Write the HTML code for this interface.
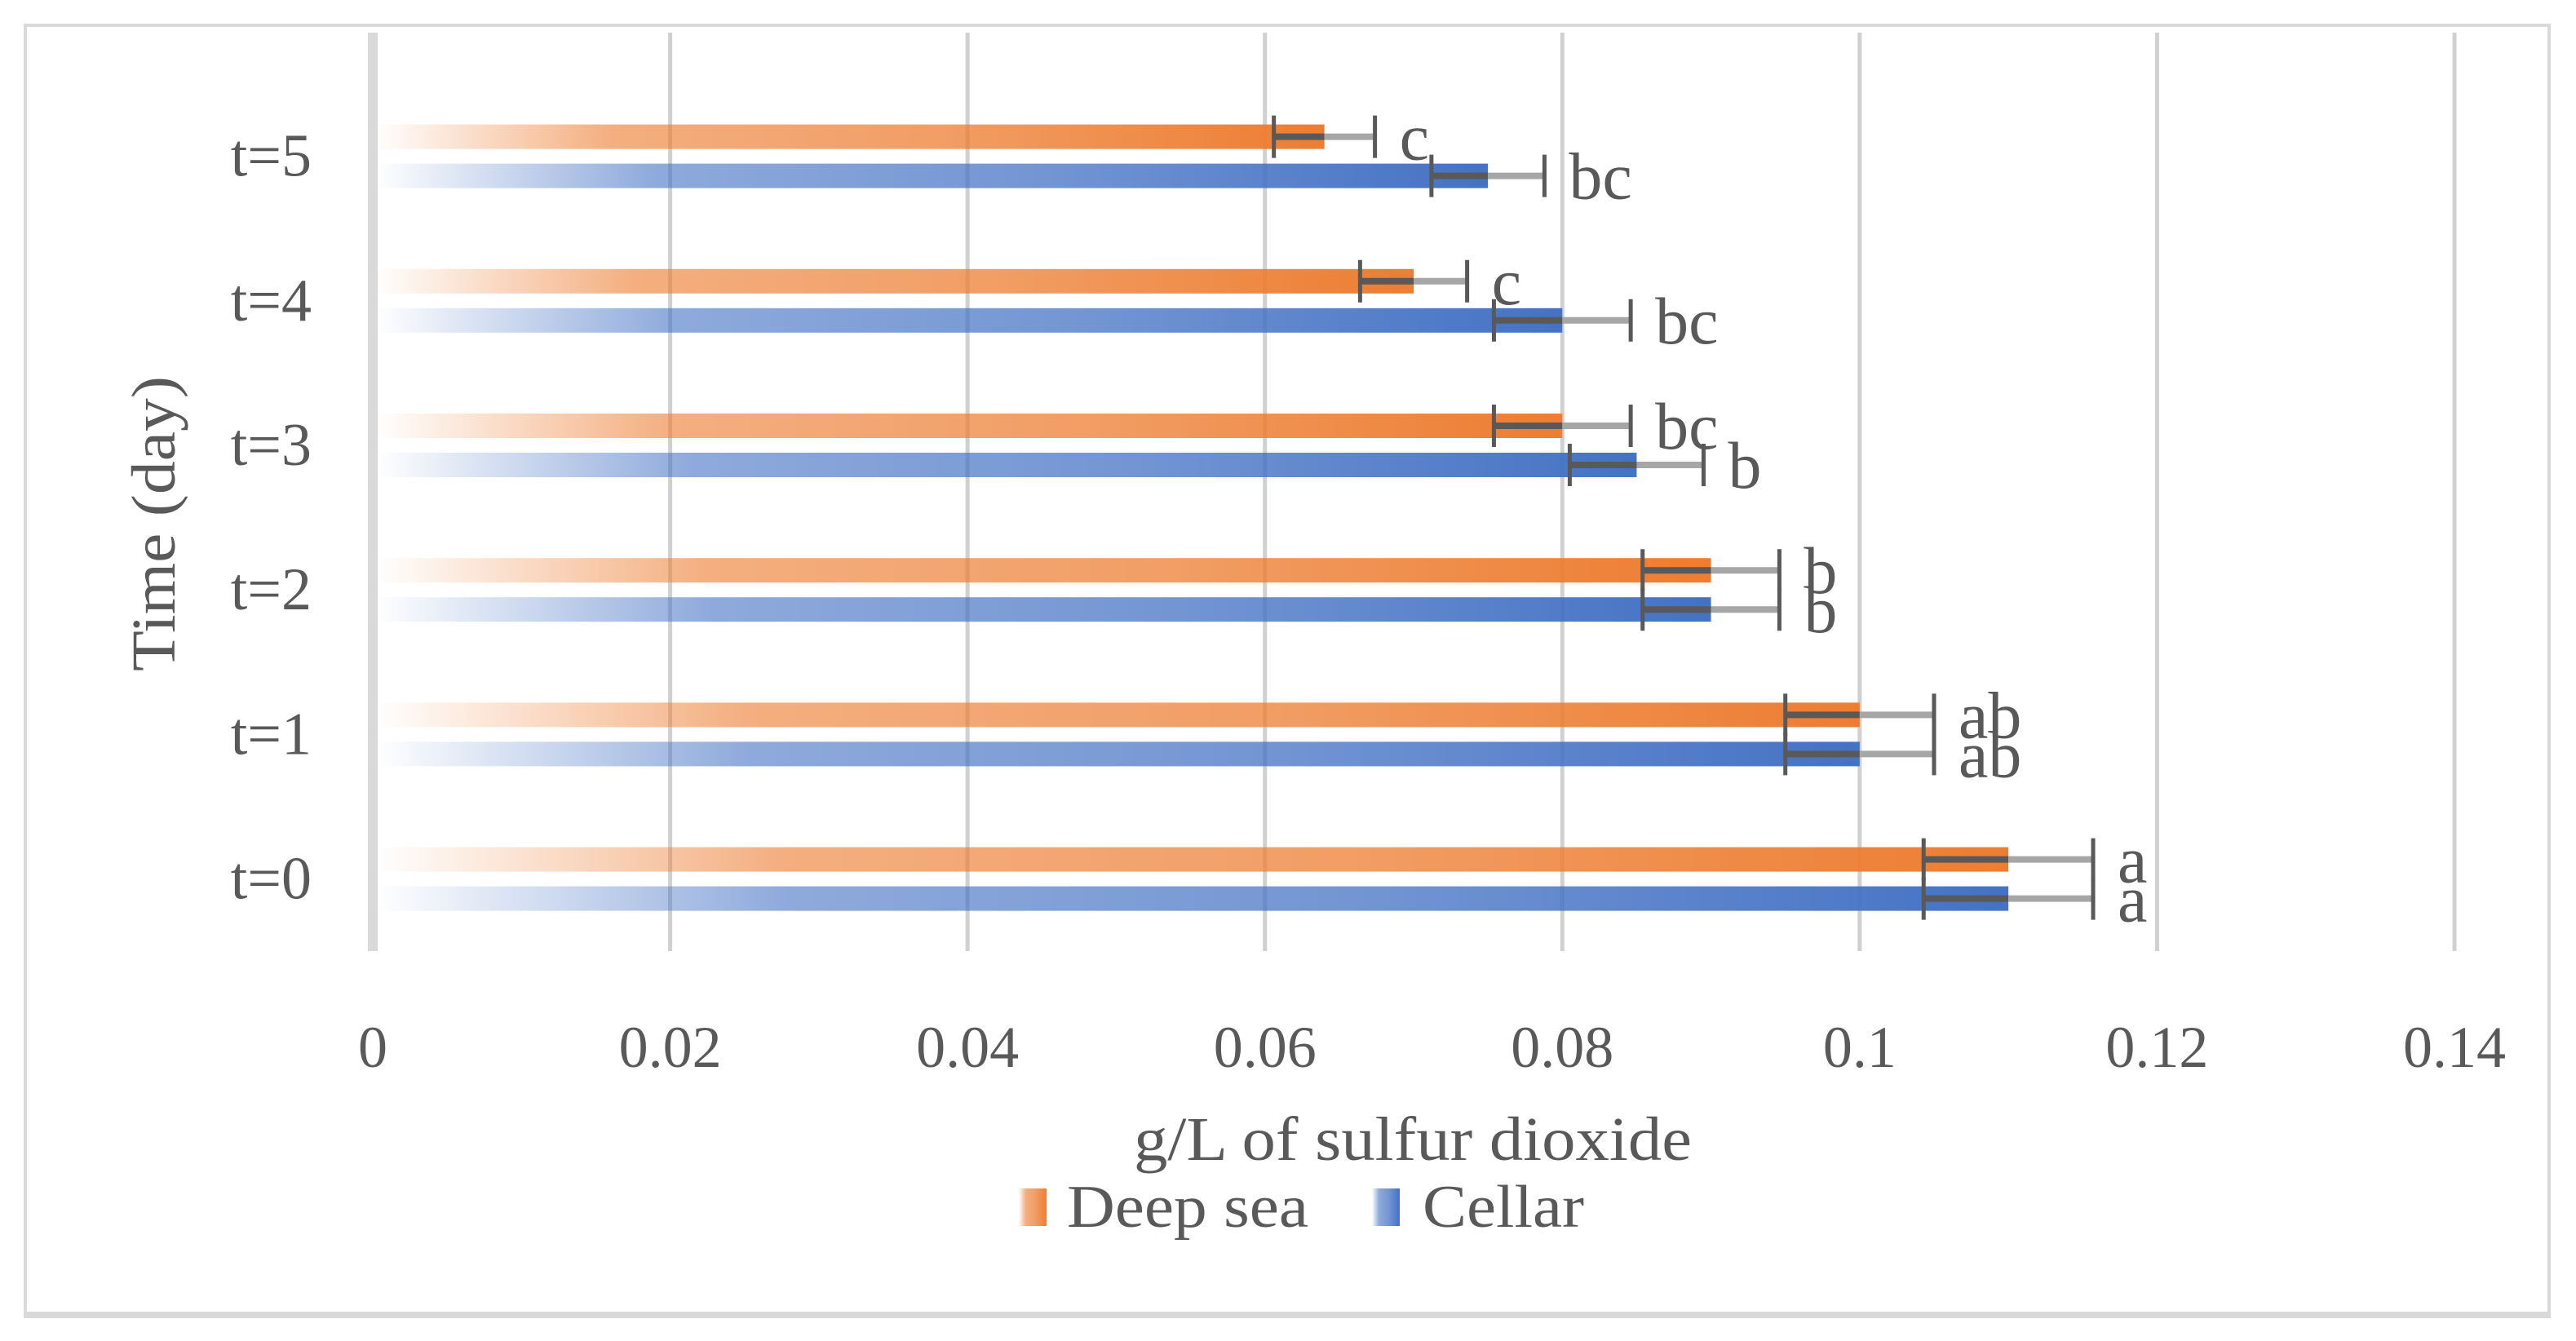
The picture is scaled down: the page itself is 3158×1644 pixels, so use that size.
<!DOCTYPE html>
<html><head><meta charset="utf-8"><style>
html,body{margin:0;padding:0;background:#fff;}
svg{display:block;}
text{font-family:"Liberation Serif",serif;fill:#595959;}
</style></head><body>
<svg id="chart" width="3158" height="1644" viewBox="0 0 3158 1644" xmlns="http://www.w3.org/2000/svg">
<defs>
<linearGradient id="gO" x1="0" y1="0" x2="1" y2="0">
<stop offset="0" stop-color="#ED7D31" stop-opacity="0"/>
<stop offset="0.25" stop-color="#ED7D31" stop-opacity="0.62"/>
<stop offset="0.6" stop-color="#ED7D31" stop-opacity="0.75"/>
<stop offset="1" stop-color="#ED7D31" stop-opacity="1"/>
</linearGradient>
<linearGradient id="gB" x1="0" y1="0" x2="1" y2="0">
<stop offset="0" stop-color="#4472C4" stop-opacity="0"/>
<stop offset="0.25" stop-color="#4472C4" stop-opacity="0.6"/>
<stop offset="0.6" stop-color="#4472C4" stop-opacity="0.75"/>
<stop offset="1" stop-color="#4472C4" stop-opacity="1"/>
</linearGradient>
</defs>
<rect x="31" y="31" width="3094" height="1580" fill="#fff" stroke="#d9d9d9" stroke-width="4"/>
<rect x="29" y="1608" width="3098" height="8" fill="#d9d9d9"/>
<g id="grid"></g>
<g id="bars"></g>
<g id="labels"></g>
<text x="1732" y="1422" font-size="76" text-anchor="middle" textLength="684" lengthAdjust="spacingAndGlyphs">g/L of sulfur dioxide</text>
<text transform="translate(214,642) rotate(-90)" font-size="76" text-anchor="middle" textLength="362" lengthAdjust="spacingAndGlyphs">Time (day)</text>
<g>
<rect x="1249" y="1457" width="34" height="46" fill="url(#gO)"/>
<text x="1308" y="1504" font-size="74" textLength="296" lengthAdjust="spacingAndGlyphs">Deep sea</text>
<rect x="1682" y="1457" width="34" height="46" fill="url(#gB)"/>
<text x="1744" y="1504" font-size="74" textLength="198" lengthAdjust="spacingAndGlyphs">Cellar</text>
</g>
</svg>
<script>
const categories = ["t=0","t=1","t=2","t=3","t=4","t=5"];
const deepSea = [0.11, 0.10, 0.09, 0.08, 0.07, 0.064];
const cellar = [0.11, 0.10, 0.09, 0.085, 0.08, 0.075];
const deepSeaErr = [0.0057, 0.005, 0.0046, 0.0046, 0.0036, 0.0034];
const cellarErr = [0.0057, 0.005, 0.0046, 0.0045, 0.0046, 0.0038];
const deepSeaLetters = ["a","ab","b","bc","c","c"];
const cellarLetters = ["a","ab","b","b","bc","bc"];
const xTicks = [0, 0.02, 0.04, 0.06, 0.08, 0.1, 0.12, 0.14];
const xTickLabels = ["0","0.02","0.04","0.06","0.08","0.1","0.12","0.14"];

const NS = "http://www.w3.org/2000/svg";
const X0 = 457, X1 = 3009, XMAX = 0.14;
const x = v => X0 + (v / XMAX) * (X1 - X0);
const catTop = 103, catStep = 177.2;
const y = i => catTop + (categories.length - 1 - i + 0.5) * catStep;
const BH = 30;
function el(tag, attrs, parent){const e=document.createElementNS(NS,tag);for(const k in attrs)e.setAttribute(k,attrs[k]);parent.appendChild(e);return e;}
const grid = document.getElementById('grid');
const bars = document.getElementById('bars');
const labels = document.getElementById('labels');

xTicks.forEach((t,i)=>{
  const g = el('line',{x1:x(t),x2:x(t),y1:40,y2:1166,stroke:i===0?'#d9d9d9':'#d0d0d0','stroke-width':i===0?12:5},grid);
  
  
  const tx = el('text',{x:x(t),y:1308,'font-size':72,'text-anchor':'middle'},labels);
  tx.textContent = xTickLabels[i];
  
  
});

categories.forEach((c,i)=>{
  const tx = el('text',{x:382,y:y(i)+24,'font-size':74,'text-anchor':'end'},labels);
  tx.textContent = c;
  
  
  const series = [[deepSea,deepSeaErr,deepSeaLetters,'url(#gO)',-24,'deep-sea'],[cellar,cellarErr,cellarLetters,'url(#gB)',24,'cellar']];
  series.forEach(([vals,errs,lets,fill,off,nm])=>{
    const cy = y(i)+off;
    const r = el('rect',{x:X0+2,y:cy-BH/2,width:x(vals[i])-X0-2,height:BH,fill:fill},bars);
    
    
    const lo = x(vals[i]-errs[i]), hi = x(vals[i]+errs[i]), v = x(vals[i]);
    const e1 = el('line',{x1:lo,x2:v,y1:cy,y2:cy,stroke:'#595959','stroke-width':8},bars);
    
    
    const e2 = el('line',{x1:v,x2:hi,y1:cy,y2:cy,stroke:'#a6a6a6','stroke-width':8},bars);
    
    
    [lo,hi].forEach(px=>{
      const cap = el('line',{x1:px,x2:px,y1:cy-26,y2:cy+26,stroke:'#595959','stroke-width':5},bars);
      
      
    });
    const lt = el('text',{x:hi+30,y:cy+28,'font-size':82},labels);
    lt.textContent = lets[i];
    
    
  });
});
</script>
</body></html>
